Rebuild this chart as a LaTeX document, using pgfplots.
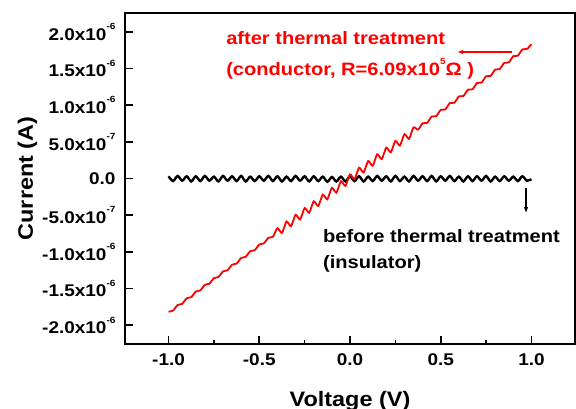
\documentclass[border=0pt]{standalone}
\usepackage{pgfplots}
\pgfplotsset{compat=1.18}
\usetikzlibrary{arrows.meta}
\usepackage{fontspec}
\setmainfont{Liberation Sans}[FakeStretch=1.12]
\definecolor{myred}{RGB}{255,0,0}
\newcommand{\smsup}[1]{\raisebox{0.62em}{\fontsize{9}{9}\selectfont #1}}
\begin{document}
\begin{tikzpicture}
\begin{axis}[
  name=ax,
  at={(0,0)}, anchor=south west,
  scale only axis, width=450bp, height=331bp,
  xmin=-1.24, xmax=1.24, ymin=-2.255, ymax=2.255,
  axis line style={line width=2.2bp},
  every tick/.style={line width=1.6bp, black},
  major tick length=8bp, minor tick length=4.5bp,
  tick align=inside, tick pos=left,
  xtick={-1,-0.5,0,0.5,1}, xticklabels={-1.0,-0.5,0.0,0.5,1.0},
  minor xtick={-0.75,-0.25,0.25,0.75},
  ytick={-2,-1.5,-1,-0.5,0,0.5,1,1.5,2},
  yticklabels={-2.0x10\smsup{-6},-1.5x10\smsup{-6},-1.0x10\smsup{-6},-5.0x10\smsup{-7},0.0,5.0x10\smsup{-7},1.0x10\smsup{-6},1.5x10\smsup{-6},2.0x10\smsup{-6}},
  ticklabel style={font=\bfseries\fontsize{17}{17}\selectfont},
  yticklabel style={xshift=-6bp},
  xticklabel style={yshift=-6bp},
  clip=false,
]
% before thermal treatment (insulator)
\addplot[black, line width=2.4bp, smooth, tension=0.5] coordinates {
(-1.000,0.030) (-0.975,-0.035) (-0.950,0.035) (-0.925,-0.030) (-0.900,0.030)
(-0.875,-0.040) (-0.850,0.030) (-0.825,-0.035) (-0.800,0.035) (-0.775,-0.030)
(-0.750,0.025) (-0.725,-0.040) (-0.700,0.035) (-0.675,-0.030) (-0.650,0.030)
(-0.625,-0.035) (-0.600,0.035) (-0.575,-0.040) (-0.550,0.025) (-0.525,-0.035)
(-0.500,0.030) (-0.475,-0.030) (-0.450,0.035) (-0.425,-0.035) (-0.400,0.030)
(-0.375,-0.040) (-0.350,0.025) (-0.325,-0.035) (-0.300,0.035) (-0.275,-0.030)
(-0.250,0.030) (-0.225,-0.040) (-0.200,0.030) (-0.175,-0.035) (-0.150,0.025)
(-0.125,-0.045) (-0.100,0.020) (-0.075,-0.040) (-0.050,0.025) (-0.025,-0.040)
(0.000,0.030) (0.025,-0.035) (0.050,0.030) (0.075,-0.040) (0.100,0.025)
(0.125,-0.035) (0.150,0.035) (0.175,-0.030) (0.200,0.030) (0.225,-0.040)
(0.250,0.035) (0.275,-0.035) (0.300,0.025) (0.325,-0.040) (0.350,0.035)
(0.375,-0.030) (0.400,0.030) (0.425,-0.035) (0.450,0.035) (0.475,-0.040)
(0.500,0.030) (0.525,-0.030) (0.550,0.035) (0.575,-0.035) (0.600,0.025)
(0.625,-0.040) (0.650,0.030) (0.675,-0.035) (0.700,0.030) (0.725,-0.030)
(0.750,0.035) (0.775,-0.040) (0.800,0.025) (0.825,-0.035) (0.850,0.030)
(0.875,-0.030) (0.900,0.025) (0.925,-0.035) (0.950,0.030) (0.975,-0.030)
(1.000,-0.010)
};
% after thermal treatment (conductor)
\addplot[myred, line width=1.8bp, smooth, tension=0.4] coordinates {
(-1.000,-1.815) (-0.975,-1.799) (-0.950,-1.724) (-0.925,-1.708) (-0.900,-1.632)
(-0.875,-1.616) (-0.850,-1.541) (-0.825,-1.525) (-0.800,-1.449) (-0.775,-1.433)
(-0.750,-1.358) (-0.725,-1.342) (-0.700,-1.266) (-0.675,-1.250) (-0.650,-1.175)
(-0.625,-1.159) (-0.600,-1.083) (-0.575,-1.067) (-0.550,-0.992) (-0.525,-0.976)
(-0.500,-0.900) (-0.475,-0.884) (-0.450,-0.809) (-0.425,-0.793) (-0.400,-0.677)
(-0.375,-0.741) (-0.350,-0.586) (-0.325,-0.650) (-0.300,-0.494) (-0.275,-0.558)
(-0.250,-0.403) (-0.225,-0.467) (-0.200,-0.311) (-0.175,-0.375) (-0.150,-0.220)
(-0.125,-0.284) (-0.100,-0.128) (-0.075,-0.192) (-0.050,-0.037) (-0.025,-0.101)
(0.000,0.055) (0.025,-0.009) (0.050,0.147) (0.075,0.082) (0.100,0.238)
(0.125,0.174) (0.150,0.330) (0.175,0.265) (0.200,0.421) (0.225,0.357)
(0.250,0.513) (0.275,0.448) (0.300,0.604) (0.325,0.540) (0.350,0.696)
(0.375,0.666) (0.400,0.752) (0.425,0.758) (0.450,0.844) (0.475,0.849)
(0.500,0.935) (0.525,0.941) (0.550,1.027) (0.575,1.032) (0.600,1.118)
(0.625,1.124) (0.650,1.210) (0.675,1.215) (0.700,1.301) (0.725,1.307)
(0.750,1.393) (0.775,1.398) (0.800,1.484) (0.825,1.490) (0.850,1.576)
(0.875,1.581) (0.900,1.667) (0.925,1.673) (0.950,1.759) (0.975,1.764)
(1.000,1.830)
};
% annotations
\node[anchor=base west, text=myred, font=\bfseries\fontsize{18}{18}\selectfont, inner sep=0pt] at (axis cs:-0.683,1.82) {after thermal treatment};
\node[anchor=base west, text=myred, font=\bfseries\fontsize{18}{18}\selectfont, inner sep=0pt] at (axis cs:-0.683,1.40) {(conductor, R=6.09x10\smsup{5}Ω )};
\draw[myred, line width=1.2bp, -{Latex[length=6bp,width=4.5bp]}] (axis cs:0.893,1.724) -- (axis cs:0.590,1.724);
\node[anchor=base west, text=black, font=\bfseries\fontsize{18}{18}\selectfont, inner sep=0pt] at (axis cs:-0.149,-0.868) {before thermal treatment};
\node[anchor=base west, text=black, font=\bfseries\fontsize{18}{18}\selectfont, inner sep=0pt] at (axis cs:-0.149,-1.222) {(insulator)};
\draw[black, line width=1.2bp, -{Latex[length=6bp,width=4.5bp]}] (axis cs:0.970,-0.131) -- (axis cs:0.970,-0.472);
\end{axis}
\node[anchor=base, font=\bfseries\fontsize{21}{21}\selectfont, inner sep=0pt] at (225bp,-62bp) {Voltage (V)};
\node[anchor=base, rotate=90, font=\bfseries\fontsize{21}{21}\selectfont, inner sep=0pt] at (-92bp,165.5bp) {Current (A)};
\pgfresetboundingbox
\path[use as bounding box] (-125bp,-65bp) rectangle (451bp,344bp);
\end{tikzpicture}
\end{document}
